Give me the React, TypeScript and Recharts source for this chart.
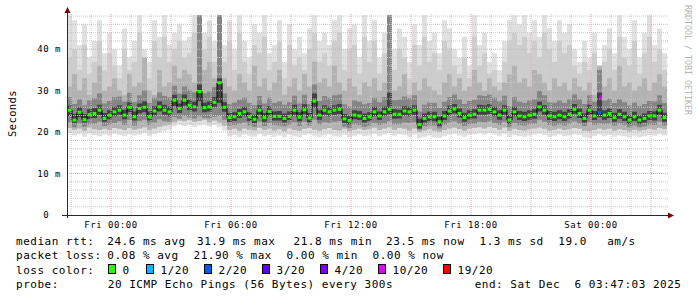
import React from "react";
import { ComposedChart, Area, Line, Scatter, XAxis, YAxis, ReferenceLine } from "recharts";

// time axis: hours relative to Fri 00:00, one sample every 15 minutes
const START_H = -2.2;
const STEP_H = 0.25;

const xTickHours = [0, 6, 12, 18, 24];
const xTickLabels = ["Fri 00:00", "Fri 06:00", "Fri 12:00", "Fri 18:00", "Sat 00:00"];
const yTicks = [0, 10, 20, 30, 40];

// median rtt (ms)
const median = [
  25.3, 22.9, 24.8, 23.0, 24.2, 24.5, 25.3, 23.3, 24.1, 24.9, 25.3, 24.1, 26.0, 23.7, 25.7, 26.0, 23.7, 25.1, 26.1, 25.3,
  24.9, 27.7, 25.7, 27.7, 26.5, 26.1, 29.8, 25.9, 26.1, 27.2, 31.9, 26.0, 23.5, 23.7, 24.5, 24.9, 23.7, 23.1, 25.3, 23.5,
  25.0, 23.8, 23.8, 23.3, 23.8, 25.3, 23.6, 25.4, 23.4, 27.5, 24.1, 25.3, 24.9, 25.3, 25.5, 23.2, 22.8, 24.1, 23.9, 23.3,
  23.7, 24.9, 23.9, 24.9, 25.5, 24.3, 24.3, 25.1, 24.9, 25.3, 21.8, 23.3, 23.7, 23.7, 22.5, 23.9, 25.1, 25.6, 24.5, 23.5,
  24.1, 24.3, 25.3, 25.3, 25.5, 24.9, 24.1, 25.3, 22.9, 24.9, 23.9, 23.7, 24.1, 24.3, 26.1, 25.3, 23.9, 23.7, 24.1, 23.7,
  24.3, 25.5, 24.5, 23.3, 25.3, 23.9, 24.7, 24.1, 24.5, 23.5, 24.3, 23.7, 22.9, 23.7, 22.9, 23.3, 23.9, 23.9, 25.3, 23.5,
];

// outer smoke (lightest)
const lo1 = [
  19.8, 19.2, 19.5, 18.9, 19.6, 19.3, 19.0, 19.4, 19.1, 19.6, 19.3, 19.0, 19.5, 19.2, 19.4, 19.8, 19.1, 19.5, 19.9, 20.3,
  20.6, 21.4, 21.8, 21.5, 21.7, 21.3, 21.6, 21.8, 21.4, 21.7, 21.2, 20.4, 19.0, 19.3, 18.8, 19.4, 19.1, 18.9, 19.5, 19.0,
  19.3, 18.9, 19.2, 18.7, 19.4, 19.0, 18.8, 19.3, 19.6, 19.1, 18.8, 19.2, 19.5, 19.0, 18.9, 19.3, 18.7, 19.1, 19.4, 19.0,
  19.2, 19.6, 19.0, 19.4, 19.8, 19.1, 19.5, 19.3, 18.9, 19.4, 18.5, 18.9, 19.2, 18.7, 18.6, 19.0, 19.4, 19.6, 19.2, 18.9,
  19.3, 19.5, 19.7, 19.4, 19.8, 19.5, 19.1, 19.6, 18.8, 19.3, 19.0, 18.9, 19.2, 19.4, 19.6, 19.3, 18.9, 19.1, 19.4, 19.0,
  19.2, 19.5, 19.3, 18.8, 18.6, 19.0, 19.4, 19.1, 19.3, 18.9, 19.2, 19.0, 18.7, 19.1, 18.8, 19.0, 19.3, 19.1, 19.5, 19.2,
];
const hi1 = [
  48.2, 47, 41, 46, 38, 42, 47, 39, 44, 40, 36, 45, 38, 42, 48.2, 40, 37, 47, 43, 48.2,
  41, 44, 46, 42, 43, 48.2, 48.2, 44, 47, 42, 48.2, 41, 47, 40, 48.2, 42, 38, 46, 44, 48.2,
  39, 41, 47, 37, 46, 40, 43, 39, 45, 48.2, 42, 44, 41, 47, 48.2, 40, 45, 46, 38, 48.2,
  42, 47, 38, 44, 48.2, 40, 45, 43, 37, 46, 41, 48.2, 42, 44, 39, 47, 45, 40, 38, 43,
  36, 48.2, 41, 44, 37, 39, 35, 42, 47, 48.2, 46, 48.2, 44, 47, 43, 48.2, 45, 42, 47, 44,
  46, 40, 37, 42, 38, 44, 36, 41, 45, 39, 48.2, 43, 40, 47, 38, 44, 48.2, 41, 45, 39,
];
// upper edge of the next lighter smoke layer (starts at lo2)
const hiMid = [
  38, 40, 35, 41, 34, 37, 42, 35, 39, 36, 33, 40, 35, 37, 44, 36, 33, 42, 38, 43,
  37, 40, 42, 38, 39, 44, 48.2, 40, 43, 37, 48.2, 37, 42, 35, 44, 37, 34, 41, 39, 43,
  35, 37, 42, 33, 41, 36, 38, 35, 40, 44, 37, 39, 36, 42, 44, 35, 40, 41, 34, 43,
  37, 42, 34, 39, 48.2, 35, 40, 38, 33, 41, 36, 43, 37, 39, 35, 42, 40, 36, 34, 38,
  33, 43, 36, 39, 34, 35, 32, 37, 42, 44, 41, 43, 39, 42, 38, 44, 40, 37, 42, 39,
  41, 36, 34, 37, 35, 39, 36, 37, 40, 35, 43, 38, 36, 42, 34, 39, 43, 37, 40, 35,
];

// second smoke layer
const lo2 = [
  21.0, 20.6, 20.9, 20.3, 21.1, 20.7, 20.5, 20.8, 20.6, 21.0, 20.8, 20.5, 21.0, 20.6, 20.9, 21.2, 20.5, 20.9, 21.3, 21.6,
  21.8, 22.4, 22.8, 22.6, 22.9, 22.5, 22.7, 22.9, 22.4, 22.8, 22.3, 21.6, 20.5, 20.8, 20.3, 20.9, 20.6, 20.4, 21.0, 20.5,
  20.8, 20.4, 20.7, 20.2, 20.9, 20.5, 20.3, 20.8, 21.0, 20.6, 20.3, 20.7, 21.0, 20.5, 20.4, 20.8, 20.2, 20.6, 20.9, 20.5,
  20.7, 21.1, 20.5, 20.9, 21.2, 20.6, 21.0, 20.8, 20.4, 20.9, 20.0, 20.4, 20.7, 20.3, 20.1, 20.5, 20.9, 21.1, 20.7, 20.4,
  20.8, 21.0, 21.2, 20.9, 21.3, 21.0, 20.6, 21.1, 20.3, 20.8, 20.5, 20.4, 20.7, 20.9, 21.1, 20.8, 20.4, 20.6, 20.9, 20.5,
  20.7, 21.0, 20.8, 20.3, 20.2, 20.5, 20.9, 20.6, 20.8, 20.4, 20.7, 20.5, 20.2, 20.6, 20.3, 20.5, 20.8, 20.6, 21.0, 20.7,
];
const hi2 = [
  31, 34, 30, 33, 29, 32, 36, 30, 31, 33, 30, 29, 34, 31, 32, 38, 30, 29, 35, 31,
  32, 36, 33, 35, 34, 32, 48.2, 35, 37, 33, 48.2, 33, 31, 30, 34, 32, 30, 36, 31, 33,
  30, 32, 35, 29, 31, 33, 30, 34, 31, 37, 32, 33, 31, 36, 32, 30, 33, 31, 29, 32,
  31, 33, 30, 32, 48.2, 30, 31, 34, 29, 32, 30, 33, 31, 30, 29, 32, 34, 31, 33, 30,
  31, 35, 32, 30, 33, 31, 30, 32, 34, 36, 32, 33, 31, 35, 34, 32, 30, 33, 31, 32,
  30, 33, 31, 30, 32, 29, 36, 31, 33, 30, 36, 31, 32, 30, 31, 33, 30, 32, 34, 31,
];

// third smoke layer
const lo3 = [
  22.4, 21.2, 22.1, 21.3, 21.9, 22.0, 22.5, 21.5, 21.8, 22.2, 22.6, 21.8, 22.9, 21.6, 22.7, 23.0, 21.7, 22.3, 23.1, 22.6,
  22.5, 23.6, 23.2, 23.9, 23.5, 23.3, 23.8, 23.4, 23.3, 23.7, 23.9, 23.0, 21.6, 21.7, 22.0, 22.3, 21.6, 21.3, 22.5, 21.5,
  22.2, 21.7, 21.6, 21.4, 21.8, 22.4, 21.5, 22.5, 21.6, 23.0, 21.9, 22.4, 22.2, 22.5, 22.6, 21.3, 21.0, 21.9, 21.7, 21.3,
  21.6, 22.2, 21.8, 22.1, 22.6, 21.9, 21.9, 22.3, 22.2, 22.4, 20.6, 21.4, 21.6, 21.6, 20.9, 21.8, 22.3, 22.6, 22.0, 21.5,
  21.9, 22.0, 22.5, 22.4, 22.6, 22.2, 21.8, 22.5, 21.2, 22.2, 21.7, 21.6, 21.9, 22.0, 23.0, 22.5, 21.7, 21.6, 21.9, 21.6,
  22.0, 22.6, 22.1, 21.5, 22.4, 21.8, 22.1, 21.9, 22.1, 21.6, 22.0, 21.7, 21.2, 21.6, 21.2, 21.4, 21.8, 21.7, 22.5, 21.6,
];
const hi3 = [
  28.5, 26.8, 27.9, 26.5, 27.6, 28.2, 29.3, 26.9, 27.5, 28.4, 28.6, 27.4, 29.5, 27.2, 28.9, 30.1, 27.0, 28.3, 29.6, 28.7,
  28.4, 31.2, 29.3, 31.0, 30.2, 29.6, 48.2, 29.4, 29.8, 30.8, 48.2, 29.3, 26.8, 27.1, 27.8, 28.3, 27.0, 26.5, 28.7, 26.9,
  28.3, 27.0, 27.4, 26.6, 27.2, 28.8, 26.9, 29.0, 26.8, 31.5, 27.5, 28.7, 28.3, 28.9, 29.1, 26.7, 26.2, 27.6, 27.3, 26.7,
  27.0, 28.3, 27.2, 28.4, 48.2, 27.7, 27.8, 28.6, 28.2, 28.9, 25.0, 26.6, 27.1, 27.0, 25.8, 27.3, 28.5, 29.1, 27.9, 26.8,
  27.5, 27.8, 28.9, 28.7, 29.1, 28.3, 27.4, 28.8, 26.3, 28.4, 27.3, 27.0, 27.6, 27.9, 30.0, 28.9, 27.2, 27.1, 27.6, 27.0,
  27.9, 29.1, 28.0, 26.8, 28.9, 27.3, 35.0, 27.6, 28.1, 27.0, 27.9, 27.2, 26.4, 27.1, 26.3, 26.8, 27.5, 27.4, 28.9, 27.0,
];

// inner smoke (darkest)
const lo4 = [
  23.9, 22.2, 23.6, 22.3, 23.2, 23.4, 24.1, 22.5, 23.1, 23.8, 24.2, 23.1, 24.8, 22.8, 24.5, 24.8, 22.8, 24.0, 25.0, 24.2,
  23.8, 26.3, 24.6, 26.4, 25.3, 25.0, 27.5, 24.8, 25.0, 26.0, 27.0, 24.9, 22.5, 22.7, 23.4, 23.8, 22.7, 22.2, 24.2, 22.5,
  23.9, 22.8, 22.8, 22.3, 22.9, 24.2, 22.6, 24.3, 22.4, 25.9, 23.0, 24.2, 23.8, 24.2, 24.4, 22.2, 21.8, 23.1, 22.9, 22.3,
  22.7, 23.8, 22.9, 23.9, 24.3, 23.2, 23.3, 24.0, 23.8, 24.2, 20.9, 22.3, 22.7, 22.6, 21.5, 22.9, 24.0, 24.5, 23.5, 22.5,
  23.1, 23.3, 24.2, 24.2, 24.4, 23.8, 23.0, 24.2, 21.9, 23.8, 22.9, 22.7, 23.0, 23.2, 25.0, 24.2, 22.9, 22.7, 23.1, 22.7,
  23.2, 24.4, 23.4, 22.3, 24.2, 22.9, 23.6, 23.0, 23.4, 22.5, 23.2, 22.7, 21.9, 22.7, 21.9, 22.3, 22.9, 22.8, 24.2, 22.5,
];
const hi4 = [
  26.4, 24.4, 26.0, 24.3, 25.5, 25.8, 26.6, 24.6, 25.3, 26.1, 26.5, 25.4, 27.2, 25.0, 26.9, 27.4, 25.0, 26.3, 27.4, 26.6,
  26.2, 29.0, 26.9, 29.1, 27.8, 27.3, 31.5, 27.1, 27.4, 28.5, 33.0, 27.2, 24.6, 24.8, 25.6, 26.1, 24.8, 24.2, 26.5, 24.6,
  26.3, 25.0, 25.1, 24.5, 25.0, 26.6, 24.8, 26.7, 24.6, 29.3, 25.3, 26.5, 26.1, 26.5, 26.8, 24.4, 24.0, 25.3, 25.1, 24.5,
  24.8, 26.1, 25.0, 26.2, 29.5, 25.5, 25.4, 26.3, 26.1, 26.5, 23.2, 24.5, 24.9, 24.9, 23.7, 25.1, 26.4, 26.8, 25.7, 24.7,
  25.3, 25.5, 26.6, 26.5, 26.8, 26.1, 25.3, 26.5, 24.1, 26.1, 25.1, 24.9, 25.3, 25.5, 27.3, 26.5, 25.1, 24.9, 25.3, 24.9,
  25.5, 26.8, 25.7, 24.5, 26.6, 25.1, 29.5, 25.3, 25.7, 24.7, 25.5, 24.9, 24.1, 24.9, 24.1, 24.5, 25.1, 25.0, 26.6, 24.7,
];

// samples whose median was drawn in a loss colour
const lossIdx = [106];
const lossCnt = [2];
// extra loss marks inside a consolidated step
const strayIdx = [106];
const strayVal = [28.4];
const strayCnt = [10];

const lossLegend = [0, 1, 2, 3, 4, 10, 19];
const lossBoxX = [108.5, 146.5, 204.5, 262.5, 320.5, 378.5, 443.5];
const LOSS_COLORS: Record<number, string> = {
  0: "#26ff00",
  1: "#00b8ff",
  2: "#0059ff",
  3: "#5e00ff",
  4: "#7e00ff",
  10: "#dd00ff",
  19: "#ff0000",
};

const rows = median.map((m, i) => ({
  t: START_H + i * STEP_H,
  b1: [lo1[i], hi1[i]],
  bm: [lo2[i], hiMid[i]],
  b2: [lo2[i], hi2[i]],
  b3: [lo3[i], hi3[i]],
  b4: [lo4[i], hi4[i]],
  med: m,
  loss: lossIdx.includes(i) ? lossCnt[lossIdx.indexOf(i)] : 0,
}));
// closing row so the last step gets its width
const last = rows[rows.length - 1];
const stepRows = [...rows, { ...last, t: START_H + rows.length * STEP_H }];
const strayRows = strayIdx.map((idx, k) => ({ t: START_H + idx * STEP_H, med: strayVal[k], loss: strayCnt[k] }));

const minorY = Array.from({ length: 24 }, (_, k) => (k + 1) * 2).filter((v) => v % 10 !== 0);
const majorY = [10, 20, 30, 40];
const minorX = Array.from({ length: 30 }, (_, k) => k - 2).filter((h) => h % 3 !== 0);
const majorX = [0, 3, 6, 9, 12, 15, 18, 21, 24, 27];

const MONO = "'DejaVu Sans Mono', monospace";
const tickStyle = { fontSize: 9, fill: "#000", fontFamily: MONO, letterSpacing: 0.5 };

function MedianMark(props: any) {
  const { cx, cy, payload } = props;
  if (cx == null || cy == null) return null;
  return <rect x={cx + 0.5} y={cy - 1.5} width={4} height={3} fill={LOSS_COLORS[payload.loss]} />;
}

function StrayMark(props: any) {
  const { cx, cy, payload } = props;
  if (cx == null || cy == null) return null;
  return <rect x={cx + 2.5} y={cy - 2} width={2} height={4} fill={LOSS_COLORS[payload.loss]} />;
}

const legendTxt = { fontFamily: MONO, fontSize: 11, letterSpacing: 0.51, fill: "#000", whiteSpace: "pre" as const };

export default function App() {
  return (
    <div style={{ position: "relative", width: 697, height: 297, background: "#fff" }}>
      <style>{"body{margin:0}"}</style>
      <ComposedChart
        width={697}
        height={297}
        data={stepRows}
        margin={{ top: 14, right: 29, bottom: 62, left: 0 }}
        style={{ position: "absolute", left: 0, top: 0 }}
      >
        <XAxis
          dataKey="t"
          type="number"
          domain={[-2.2, 27.85]}
          ticks={xTickHours}
          tickFormatter={(v: number) => xTickLabels[xTickHours.indexOf(v)]}
          axisLine={false}
          tickLine={false}
          tickSize={0}
          tickMargin={6.5}
          height={20}
          tick={tickStyle}
          allowDataOverflow
        />
        <YAxis
          type="number"
          domain={[0, 48.5]}
          ticks={yTicks}
          tickFormatter={(v: number) => (v === 0 ? "0\u00a0\u00a0" : `${v} m`)}
          axisLine={false}
          tickLine={false}
          tickSize={0}
          tickMargin={6}
          width={67}
          tick={tickStyle}
          allowDataOverflow
        />
        <Area type="stepAfter" dataKey="b1" fill="#e0e0e0" fillOpacity={1} stroke="none" isAnimationActive={false} activeDot={false} />
        <Area type="stepAfter" dataKey="bm" fill="#cdcdcd" fillOpacity={1} stroke="none" isAnimationActive={false} activeDot={false} />
        <Area type="stepAfter" dataKey="b2" fill="#b2b2b2" fillOpacity={1} stroke="none" isAnimationActive={false} activeDot={false} />
        <Area type="stepAfter" dataKey="b3" fill="#858585" fillOpacity={1} stroke="none" isAnimationActive={false} activeDot={false} />
        <Area type="stepAfter" dataKey="b4" fill="#424242" fillOpacity={1} stroke="none" isAnimationActive={false} activeDot={false} />
        <Line type="stepAfter" dataKey="med" stroke="#000" strokeWidth={1} dot={false} activeDot={false} isAnimationActive={false} />
        {minorY.map((v) => (
          <ReferenceLine key={`my${v}`} y={v} stroke="#c8c8c8" strokeDasharray="1 1" />
        ))}
        {minorX.map((h) => (
          <ReferenceLine key={`mx${h}`} x={h} stroke="#c8c8c8" strokeDasharray="1 1" />
        ))}
        {majorY.map((v) => (
          <ReferenceLine key={`My${v}`} y={v} stroke="#e8a8a8" strokeDasharray="1 1" />
        ))}
        {majorX.map((h) => (
          <ReferenceLine key={`Mx${h}`} x={h} stroke="#e8a8a8" strokeDasharray="1 1" />
        ))}
        <Scatter data={rows} dataKey="med" shape={MedianMark} isAnimationActive={false} />
        <Scatter data={strayRows} dataKey="med" shape={StrayMark} isAnimationActive={false} />
      </ComposedChart>

      <svg width={697} height={297} style={{ position: "absolute", left: 0, top: 0, pointerEvents: "none" }}>
        {/* axes with arrows */}
        <line x1={67.5} y1={12} x2={67.5} y2={218} stroke="#2a2a2a" />
        <line x1={62} y1={215.5} x2={672} y2={215.5} stroke="#2a2a2a" />
        <polygon points="64.5,13 70.5,13 67.5,7" fill="#7f0000" />
        <polygon points="668,212.5 668,218.5 674,215.5" fill="#7f0000" />

        <text
          x={12}
          y={113.5}
          transform="rotate(-90 12 113.5)"
          textAnchor="middle"
          dominantBaseline="central"
          style={{ fontFamily: MONO, fontSize: 10.5, letterSpacing: 0.4, fill: "#000" }}
        >
          Seconds
        </text>
        <text
          x={688}
          y={5}
          transform="rotate(90 688 5)"
          dominantBaseline="central"
          style={{ fontFamily: MONO, fontSize: 8.3, fill: "#b4b4b4" }}
        >
          RRDTOOL / TOBI OETIKER
        </text>

        {/* legend */}
        <text y={244.5} style={legendTxt}>
          <tspan x={16}>median rtt:</tspan>
          <tspan x={107.3}>24.6 ms avg</tspan>
          <tspan x={197}>31.9 ms max</tspan>
          <tspan x={293.6}>21.8 ms min</tspan>
          <tspan x={386.1}>23.5 ms now</tspan>
          <tspan x={479.5}>1.3 ms sd</tspan>
          <tspan x={558.3}>19.0</tspan>
          <tspan x={607.2}>am/s</tspan>
        </text>
        <text y={259} style={legendTxt}>
          <tspan x={16}>packet loss:</tspan>
          <tspan x={107.3}>0.08 % avg</tspan>
          <tspan x={193.5}>21.90 % max</tspan>
          <tspan x={286.5}>0.00 % min</tspan>
          <tspan x={372.5}>0.00 % now</tspan>
        </text>
        <text x={16} y={273.5} style={legendTxt}>
          loss color:
        </text>
        {lossLegend.map((n, k) => (
          <g key={n}>
            <rect x={lossBoxX[k]} y={264.5} width={7} height={9} fill={LOSS_COLORS[n]} stroke="#000" />
            <text x={lossBoxX[k] + 14} y={273.5} style={legendTxt}>
              {n === 0 ? "0" : `${n}/20`}
            </text>
          </g>
        ))}
        <text y={288} style={legendTxt}>
          <tspan x={16}>probe:</tspan>
          <tspan x={107.8}>20 ICMP Echo Pings (56 Bytes) every 300s</tspan>
        </text>
        <text x={681.5} y={288} textAnchor="end" style={legendTxt}>
          end: Sat Dec  6 03:47:03 2025
        </text>
      </svg>
    </div>
  );
}
